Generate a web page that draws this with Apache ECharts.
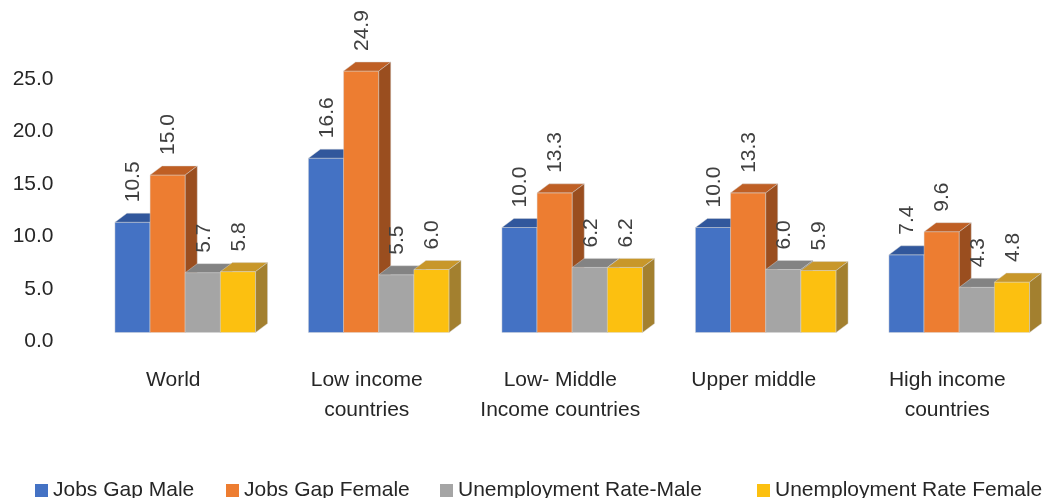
<!DOCTYPE html>
<html>
<head>
<meta charset="utf-8">
<script src="https://cdn.jsdelivr.net/npm/echarts@6/dist/echarts.min.js"></script>
<style>
  html, body { margin: 0; padding: 0; background: #ffffff; }
  #chart { width: 1044px; height: 498px; }
</style>
</head>
<body>
<div id="chart"></div>
<script>
// ---- data ----
const categories = ['World', 'Low income\ncountries', 'Low- Middle\nIncome countries', 'Upper middle', 'High income\ncountries'];
const seriesNames = ['Jobs Gap Male', 'Jobs Gap Female', 'Unemployment Rate-Male', 'Unemployment Rate Female'];
const jobsGapMale = [10.5, 16.6, 10.0, 10.0, 7.4];
const jobsGapFemale = [15.0, 24.9, 13.3, 13.3, 9.6];
const unemploymentRateMale = [5.7, 5.5, 6.2, 6.0, 4.3];
const unemploymentRateFemale = [5.8, 6.0, 6.2, 5.9, 4.8];
const yMin = 0, yMax = 25, yStep = 5;

// ---- styling ----
const FONT = '"Liberation Sans", Arial, Helvetica, sans-serif';
const faces = [
  { front: '#4472C4', top: '#31579C', side: '#2B4C88' },
  { front: '#ED7D31', top: '#BF5F24', side: '#9A4E1F' },
  { front: '#A5A5A5', top: '#838383', side: '#6E6E6E' },
  { front: '#FCC010', top: '#C8972A', side: '#A3802F' }
];
const DX = 12;           // depth shift to the right
const DY = 9;            // depth shift upwards
const BAR_FRAC = 0.1817; // bar width as a share of the category band
const legendLeft = [30, 221, 435, 752];

const seriesValues = [jobsGapMale, jobsGapFemale, unemploymentRateMale, unemploymentRateFemale];

// draws one 3D column: front face, top face, right side face and a vertical value label
function renderColumn(params, api) {
  const si = params.seriesIndex;
  const cat = api.value(0);
  const val = api.value(1);
  const base = api.coord([cat, 0]);
  const peak = api.coord([cat, val]);
  const band = api.size([1, 0])[0];
  const bw = band * BAR_FRAC;
  const x0 = base[0] - 2 * bw + si * bw + DX;
  const x1 = x0 + bw;
  const yb = base[1] - DY;
  const yt = peak[1] - DY;
  const c = faces[si];
  const edge = { stroke: 'rgba(215,215,215,0.55)', lineWidth: 0.8 };
  return {
    type: 'group',
    children: [
      { type: 'rect', shape: { x: x0, y: yt, width: bw, height: yb - yt },
        style: Object.assign({ fill: c.front }, edge) },
      { type: 'polygon', shape: { points: [[x0, yt], [x1, yt], [x1 + DX, yt - DY], [x0 + DX, yt - DY]] },
        style: Object.assign({ fill: c.top }, edge) },
      { type: 'polygon', shape: { points: [[x1, yt], [x1 + DX, yt - DY], [x1 + DX, yb - DY], [x1, yb]] },
        style: Object.assign({ fill: c.side }, edge) },
      { type: 'text', x: (x0 + x1) / 2 + 1, y: yt - 20, rotation: Math.PI / 2,
        style: { text: val.toFixed(1), fill: '#404040', font: '21px ' + FONT,
                 align: 'left', verticalAlign: 'middle' } }
    ]
  };
}

const chart = echarts.init(document.getElementById('chart'), null, { renderer: 'canvas' });
chart.setOption({
  animation: false,
  backgroundColor: '#ffffff',
  grid: { left: 76.5, width: 970, top: 79, height: 262.5 },
  xAxis: {
    type: 'category',
    data: categories,
    axisLine: { show: false },
    axisTick: { show: false },
    splitLine: { show: false },
    axisLabel: { margin: 24, fontSize: 21, lineHeight: 30, color: '#262626', fontFamily: FONT, interval: 0 }
  },
  yAxis: {
    type: 'value',
    min: yMin, max: yMax, interval: yStep,
    axisLine: { show: false },
    axisTick: { show: false },
    splitLine: { show: false },
    axisLabel: { margin: 23, fontSize: 21, color: '#262626', fontFamily: FONT,
                 formatter: v => v.toFixed(1) }
  },
  legend: seriesNames.map((name, i) => ({
    data: [name],
    left: legendLeft[i],
    top: 475,
    icon: 'rect',
    itemWidth: 13,
    itemHeight: 13,
    itemGap: 0,
    textStyle: { fontSize: 21, color: '#262626', fontFamily: FONT }
  })),
  series: seriesNames.map((name, i) => ({
    name: name,
    type: 'custom',
    clip: false,
    itemStyle: { color: faces[i].front },
    encode: { x: 0, y: 1 },
    data: seriesValues[i].map((v, k) => [k, v]),
    renderItem: renderColumn
  }))
});
</script>
</body>
</html>
